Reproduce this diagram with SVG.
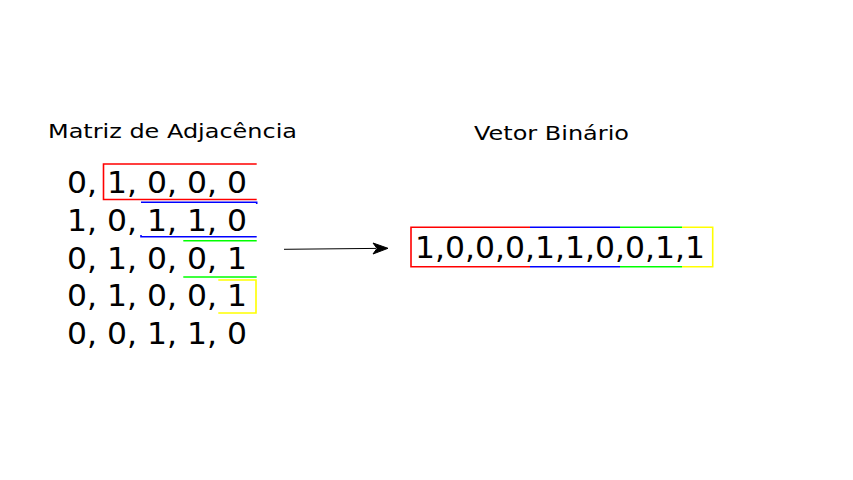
<svg xmlns="http://www.w3.org/2000/svg" width="853" height="480" viewBox="0 0 853 480">
<style>
.t{font-family:"DejaVu Sans",Verdana,sans-serif;fill:#000}
.big{font-size:30px}
.ttl{font-size:20px}
.ln{fill:none;stroke-width:1.6}
.r{stroke:#FF0000}.b{stroke:#0000FF}.g{stroke:#00FF00}.y{stroke:#FFFF00}
</style>
<rect width="853" height="480" fill="#fff"/>
<g id="title-matriz"><text class="t ttl" x="48" y="138" textLength="249" lengthAdjust="spacingAndGlyphs">Matriz de Adjacência</text></g>
<g id="title-vetor"><text class="t ttl" x="474" y="139.5" textLength="155" lengthAdjust="spacingAndGlyphs">Vetor Binário</text></g>
<g id="matriz">
<text class="t big" x="67" y="193" textLength="180" lengthAdjust="spacingAndGlyphs">0, 1, 0, 0, 0</text>
<text class="t big" x="67" y="231" textLength="180" lengthAdjust="spacingAndGlyphs">1, 0, 1, 1, 0</text>
<text class="t big" x="67" y="268.5" textLength="180" lengthAdjust="spacingAndGlyphs">0, 1, 0, 0, 1</text>
<text class="t big" x="67" y="306" textLength="180" lengthAdjust="spacingAndGlyphs">0, 1, 0, 0, 1</text>
<text class="t big" x="67" y="343.5" textLength="180" lengthAdjust="spacingAndGlyphs">0, 0, 1, 1, 0</text>
</g>
<g id="destaques">
<path class="ln r" d="M256.7 164 H103.5 V199.5 H256.7"/>
<path class="ln b" d="M141 202.3 H256.7 V204 M141 235 V236.7 H256.7"/>
<path class="ln g" d="M183.3 240.7 H256.7 M183.3 277 H256.7"/>
<path class="ln y" d="M218.3 280 H256 V313 H218.3"/>
</g>
<g id="vetor">
<text class="t big" x="415" y="257.7" textLength="290" lengthAdjust="spacingAndGlyphs">1,0,0,0,1,1,0,0,1,1</text>
<path class="ln r" d="M530 227.3 H411 V266.7 H530"/>
<path class="ln b" d="M530 227.3 H620 M530 266.7 H620"/>
<path class="ln g" d="M620 227.3 H682 M620 266.7 H682"/>
<path class="ln y" d="M682 227.3 H712.7 V266.7 H682"/>
</g>
<g id="conectores">
<path d="M284 249.3 L376 248.4" fill="none" stroke="#000" stroke-width="1"/>
<path d="M388 248.3 L373 243 L377 248.4 L373 254 Z" fill="#000" stroke="#000" stroke-width="1"/>
</g>
</svg>
